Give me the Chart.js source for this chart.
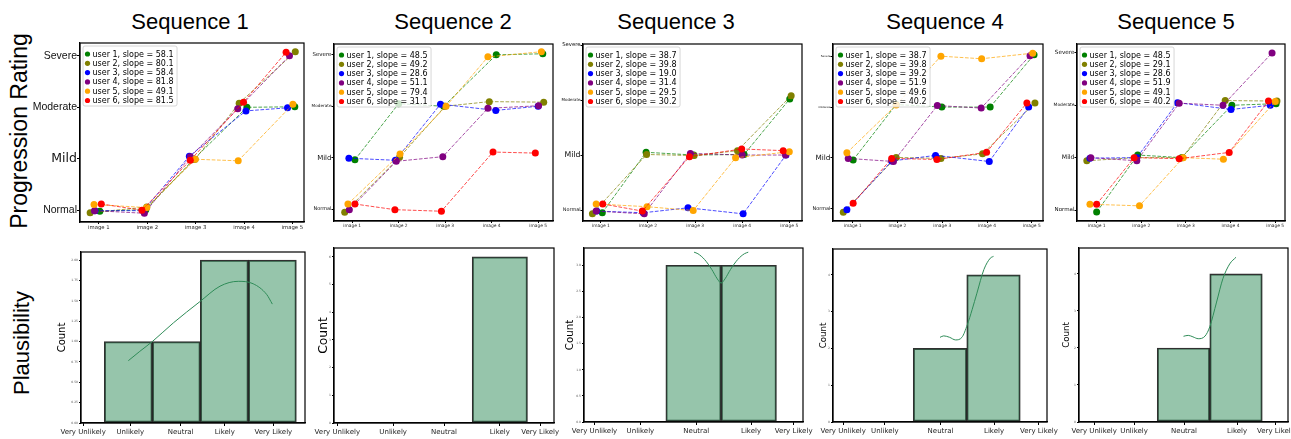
<!DOCTYPE html>
<html>
<head>
<meta charset="utf-8">
<script src="https://cdn.jsdelivr.net/npm/chart.js@4.4.1/dist/chart.umd.min.js"></script>
<style>
  html, body { margin: 0; padding: 0; background: #fff; }
  #fig { position: relative; width: 1291px; height: 439px; overflow: hidden; background: #fff; }
  #fig canvas { position: absolute; }
  .txt { position: absolute; font-family: 'Liberation Sans', Arial, sans-serif; line-height: 1; white-space: nowrap; color: #000; transform: translate(-50%, -50%); }
  .rot { transform: translate(-50%, -50%) rotate(-90deg); }
</style>
</head>
<body>
<div id="fig">
  <div class="txt" style="left:190px; top:22px; font-size:22px">Sequence 1</div>
  <div class="txt" style="left:453px; top:22px; font-size:22px">Sequence 2</div>
  <div class="txt" style="left:676px; top:22px; font-size:22px">Sequence 3</div>
  <div class="txt" style="left:945px; top:22px; font-size:22px">Sequence 4</div>
  <div class="txt" style="left:1176px; top:22px; font-size:22px">Sequence 5</div>
  <div class="txt rot" style="left:19px; top:131px; font-size:23px">Progression Rating</div>
  <div class="txt rot" style="left:22px; top:343px; font-size:22px">Plausibility</div>
</div>
<script>
// --- data -------------------------------------------------------------
const imageLabels = ['image 1', 'image 2', 'image 3', 'image 4', 'image 5'];
const ratingLabels = ['Normal', 'Mild', 'Moderate', 'Severe'];
const plausLabels = ['Very Unlikely', 'Unlikely', 'Neutral', 'Likely', 'Very Likely'];
const userNames = ['user 1', 'user 2', 'user 3', 'user 4', 'user 5', 'user 6'];

// ratings per user (rows) and image (columns), jittered as plotted
const seq1Y = [
  [-0.02, 0.01, 0.99, 2.0, 2.01],
  [-0.05, 0.06, 0.99, 2.08, 3.08],
  [-0.01, -0.01, 1.05, 1.93, 1.99],
  [-0.01, -0.06, 1.04, 1.97, 3.0],
  [0.11, 0.05, 0.99, 0.96, 2.06],
  [0.12, 0.0, 0.97, 2.1, 3.07]
];
const seq1X = [
  [0.02, 0.97, 1.96, 3.06, 4.05],
  [-0.18, 0.99, 1.99, 2.9, 4.06],
  [-0.08, 0.92, 1.87, 3.04, 3.9],
  [-0.09, 0.94, 1.89, 2.87, 3.94],
  [-0.1, 0.99, 1.99, 2.88, 4.01],
  [0.05, 0.89, 1.89, 2.99, 3.87]
];
const seq1Slopes = [58.1, 80.1, 58.4, 81.8, 49.1, 81.5];

const seq2Y = [
  [0.96, 2.05, 2.0, 3.0, 3.02],
  [-0.06, 1.01, 2.0, 2.09, 2.08],
  [0.99, 0.95, 2.04, 1.92, 2.0],
  [-0.01, 0.93, 1.02, 1.96, 2.01],
  [0.1, 1.07, 2.0, 2.96, 3.06],
  [0.1, -0.01, -0.04, 1.11, 1.09]
];
const seq2X = [
  [0.06, 1.0, 1.97, 3.1, 4.1],
  [-0.16, 1.02, 2.0, 2.95, 4.12],
  [-0.07, 0.93, 1.9, 3.09, 4.0],
  [-0.06, 0.95, 1.95, 2.92, 4.01],
  [-0.09, 1.03, 2.02, 2.92, 4.07],
  [0.06, 0.92, 1.92, 3.03, 3.94]
];
const seq2Slopes = [48.5, 49.2, 28.6, 51.1, 79.4, 31.1];

const seq3Y = [
  [-0.05, 1.05, 1.0, 1.01, 2.02],
  [-0.07, 1.01, 0.99, 1.08, 2.08],
  [-0.02, -0.05, 0.04, -0.07, 1.0],
  [-0.02, -0.07, 1.03, 1.0, 1.0],
  [0.11, 0.06, -0.01, 0.95, 1.06],
  [0.11, -0.02, 0.97, 1.11, 1.08]
];
const seq3X = [
  [0.03, 0.96, 1.97, 3.04, 4.01],
  [-0.18, 0.97, 1.98, 2.9, 4.04],
  [-0.09, 0.9, 1.85, 3.02, 3.93],
  [-0.1, 0.92, 1.9, 3.0, 3.92],
  [-0.1, 0.98, 1.96, 2.86, 4.0],
  [0.04, 0.88, 1.88, 2.99, 3.87]
];
const seq3Slopes = [38.7, 39.8, 19.0, 31.4, 29.5, 30.2];

const seq4Y = [
  [0.96, 2.05, 2.0, 2.0, 3.03],
  [-0.07, 1.01, 0.99, 1.08, 2.08],
  [-0.02, 0.94, 1.05, 0.93, 2.0],
  [0.99, 0.93, 2.03, 1.98, 3.01],
  [1.1, 2.04, 3.0, 2.95, 3.06],
  [0.11, 0.99, 0.97, 1.11, 2.08]
];
const seq4X = [
  [0.01, 0.97, 1.99, 3.07, 4.05],
  [-0.21, 0.97, 1.97, 2.9, 4.07],
  [-0.13, 0.87, 1.85, 3.05, 3.93],
  [-0.1, 0.91, 1.89, 2.87, 3.96],
  [-0.13, 0.97, 1.97, 2.88, 4.02],
  [0.01, 0.87, 1.88, 2.99, 3.89]
];
const seq4Slopes = [38.7, 39.8, 39.2, 51.9, 49.6, 40.2];

const seq5Y = [
  [-0.04, 1.05, 1.0, 2.0, 2.03],
  [0.94, 1.0, 1.0, 2.09, 2.08],
  [0.99, 1.0, 2.05, 1.92, 2.0],
  [1.0, 0.94, 2.04, 2.0, 3.0],
  [0.11, 0.08, 1.0, 0.97, 2.07],
  [0.11, 1.0, 0.98, 1.1, 2.08]
];
const seq5X = [
  [0.0, 0.92, 1.9, 3.03, 4.02],
  [-0.22, 0.86, 1.92, 2.88, 4.04],
  [-0.15, 0.9, 1.81, 3.01, 3.89],
  [-0.13, 0.9, 1.85, 2.83, 3.93],
  [-0.15, 0.96, 1.94, 2.84, 4.0],
  [0.0, 0.84, 1.85, 2.97, 3.85]
];
const seq5Slopes = [48.5, 29.1, 28.6, 51.9, 49.1, 40.2];

// plausibility counts per bin (Very Unlikely .. Very Likely)
const seq1Counts = [0, 1, 1, 2, 2];
const seq2Counts = [0, 0, 0, 6, 0];
const seq3Counts = [0, 0, 3, 3, 0];
const seq4Counts = [0, 0, 2, 4, 0];
const seq5Counts = [0, 0, 2, 4, 0];

// where the category labels sit on each histogram axis
const seq1PlausTicks = [0.06, 1.04, 2.09, 3.01, 4.02];
const seq2PlausTicks = [0.06, 1.07, 1.99, 3.0, 3.73];
const seq3PlausTicks = [0.21, 1.04, 2.05, 3.04, 3.81];
const seq4PlausTicks = [0.19, 0.97, 2.01, 3.01, 3.85];
const seq5PlausTicks = [0.3, 1.06, 2.01, 3.02, 3.76];

// kde curves
const seq1KdeX = [1.0, 1.24, 1.5, 1.94, 2.49, 2.91, 3.29, 3.6, 3.88, 4.0];
const seq1KdeY = [0.765, 0.88, 1.0, 1.23, 1.49, 1.68, 1.74, 1.71, 1.58, 1.46];
const seq3KdeX = [2.01, 2.08, 2.2, 2.33, 2.43, 2.5, 2.57, 2.67, 2.8, 2.92, 2.99];
const seq3KdeY = [3.25, 3.22, 3.11, 2.92, 2.74, 2.66, 2.74, 2.92, 3.11, 3.22, 3.25];
const seq4KdeX = [2.0, 2.07, 2.18, 2.29, 2.41, 2.51, 2.6, 2.69, 2.82, 2.94, 3.0];
const seq4KdeY = [2.3, 2.34, 2.3, 2.23, 2.3, 2.64, 3.05, 3.5, 4.14, 4.45, 4.5];
const seq5KdeX = [2.0, 2.09, 2.18, 2.28, 2.41, 2.5, 2.63, 2.75, 2.88, 3.0];
const seq5KdeY = [2.315, 2.34, 2.3, 2.25, 2.32, 2.57, 3.24, 3.87, 4.27, 4.45];

// --- style -------------------------------------------------------------
const userColors = ['#008000', '#808000', '#0000ff', '#800080', '#ffa500', '#ff0000'];
const lineColors = ['rgba(0,128,0,0.7)', 'rgba(128,128,0,0.7)', 'rgba(0,0,255,0.7)',
                    'rgba(128,0,128,0.7)', 'rgba(255,165,0,0.7)', 'rgba(255,0,0,0.7)'];
const DEJAVU = '"DejaVu Sans", Verdana, sans-serif';
const LIB = '"Liberation Sans", Arial, sans-serif';

const fig = document.getElementById('fig');

const framePlugin = {
  id: 'frame',
  afterDraw(chart) {
    const a = chart.chartArea, ctx = chart.ctx;
    ctx.save();
    ctx.strokeStyle = '#000';
    ctx.lineWidth = 1.2;
    ctx.strokeRect(a.left, a.top, a.right - a.left, a.bottom - a.top);
    ctx.restore();
  }
};

const userLegend = {
  id: 'userLegend',
  afterDatasetsDraw(chart, args, opts) {
    if (!opts.items) return;
    const a = chart.chartArea, ctx = chart.ctx;
    ctx.save();
    ctx.font = '8px ' + DEJAVU;
    const w = Math.max(...opts.items.map(it => ctx.measureText(it.text).width));
    const bx = a.left + 3, by = a.top + 3;
    const bw = w + 13, bh = 60;
    ctx.fillStyle = 'rgba(255,255,255,0.8)';
    ctx.strokeStyle = '#cccccc';
    ctx.lineWidth = 0.8;
    ctx.beginPath();
    if (ctx.roundRect) ctx.roundRect(bx, by, bw, bh, 2); else ctx.rect(bx, by, bw, bh);
    ctx.fill();
    ctx.stroke();
    ctx.textBaseline = 'middle';
    opts.items.forEach((it, i) => {
      const y = a.top + 11 + i * 9.3;
      ctx.fillStyle = it.color;
      ctx.beginPath();
      ctx.arc(bx + 4.5, y, 2.6, 0, Math.PI * 2);
      ctx.fill();
      ctx.fillStyle = '#000';
      ctx.fillText(it.text, bx + 9.5, y + 0.5);
    });
    ctx.restore();
  }
};

function addCanvas(rect, pad) {
  const [l, t, r, b] = rect;
  const c = document.createElement('canvas');
  const w = r - l + pad.left + pad.right;
  const h = b - t + pad.top + pad.bottom;
  c.width = w; c.height = h;
  c.style.width = w + 'px'; c.style.height = h + 'px';
  c.style.left = (l - pad.left) + 'px';
  c.style.top = (t - pad.top) + 'px';
  fig.appendChild(c);
  return c;
}

function fixY(width) {
  return (s) => { s.width = width; s.paddingTop = 0; s.paddingBottom = 0; };
}
function fixX(height) {
  return (s) => { s.height = height; s.paddingLeft = 0; s.paddingRight = 0; };
}

// --- top row: progression ratings --------------------------------------
const topPanels = [
  { xs: seq1X, ys: seq1Y, slopes: seq1Slopes, rect: [80, 43, 304, 222], pad: {left: 52, right: 8, top: 6, bottom: 12},
    xr: [-0.39, 4.24], yr: [-0.23, 3.25], ySizes: [10.5, 12.5, 10.5, 10.5], yFams: [LIB, DEJAVU, LIB, LIB], xSize: 5.3, yTick: 3 },
  { xs: seq2X, ys: seq2Y, slopes: seq2Slopes, rect: [334, 44, 553, 221], pad: {left: 24, right: 8, top: 6, bottom: 12},
    xr: [-0.39, 4.32], yr: [-0.23, 3.21], ySizes: [5, 7, 4.2, 5.5], yFams: [DEJAVU, DEJAVU, DEJAVU, DEJAVU], xSize: 4.4, yTick: 2.5 },
  { xs: seq3X, ys: seq3Y, slopes: seq3Slopes, rect: [583, 44, 802, 221], pad: {left: 24, right: 8, top: 6, bottom: 12},
    xr: [-0.38, 4.27], yr: [-0.2, 3.02], ySizes: [4.9, 7.8, 4, 5.3], yFams: [DEJAVU, DEJAVU, DEJAVU, DEJAVU], xSize: 4.4, yTick: 2.5 },
  { xs: seq4X, ys: seq4Y, slopes: seq4Slopes, rect: [833, 44, 1043, 221], pad: {left: 24, right: 8, top: 6, bottom: 12},
    xr: [-0.44, 4.25], yr: [-0.24, 3.24], ySizes: [5, 7.3, 2.5, 2.8], yFams: [DEJAVU, DEJAVU, DEJAVU, DEJAVU], xSize: 4.4, yTick: 2.5 },
  { xs: seq5X, ys: seq5Y, slopes: seq5Slopes, rect: [1077, 44, 1285, 221], pad: {left: 24, right: 6, top: 6, bottom: 12},
    xr: [-0.44, 4.22], yr: [-0.21, 3.17], ySizes: [5.5, 6.2, 4.4, 5.7], yFams: [DEJAVU, DEJAVU, DEJAVU, DEJAVU], xSize: 4.4, yTick: 2.5 }
];

topPanels.forEach(p => {
  const canvas = addCanvas(p.rect, p.pad);
  const datasets = userNames.map((name, u) => ({
    label: name,
    data: p.xs[u].map((x, k) => ({ x: x, y: p.ys[u][k] })),
    borderColor: lineColors[u],
    borderWidth: 1,
    borderDash: [3.7, 1.6],
    pointRadius: 3.5,
    pointBackgroundColor: userColors[u],
    pointBorderWidth: 0,
    tension: 0,
    order: userNames.length - u
  }));
  const items = userNames.map((name, u) => ({
    text: name + ', slope = ' + p.slopes[u].toFixed(1),
    color: userColors[u]
  }));
  new Chart(canvas, {
    type: 'line',
    data: { datasets },
    options: {
      responsive: false,
      animation: false,
      devicePixelRatio: 1,
      events: [],
      layout: { padding: { left: 0, right: p.pad.right, top: p.pad.top, bottom: 0 } },
      plugins: {
        legend: { display: false },
        tooltip: { enabled: false },
        userLegend: { items }
      },
      scales: {
        x: {
          type: 'linear', min: p.xr[0], max: p.xr[1], bounds: 'data',
          afterBuildTicks: s => { s.ticks = imageLabels.map((_, i) => ({ value: i })); },
          afterFit: fixX(p.pad.bottom),
          grid: { display: true, drawOnChartArea: false, drawTicks: true, tickLength: 2, color: '#000' },
          border: { display: true, color: '#000', width: 1.2 },
          ticks: { autoSkip: false, maxRotation: 0, padding: 0.5, color: '#222',
                   font: { family: DEJAVU, size: p.xSize },
                   callback: (v, i) => imageLabels[i] }
        },
        y: {
          type: 'linear', min: p.yr[0], max: p.yr[1], bounds: 'data',
          afterBuildTicks: s => { s.ticks = ratingLabels.map((_, i) => ({ value: i })); },
          afterFit: fixY(p.pad.left),
          grid: { display: true, drawOnChartArea: false, drawTicks: true, tickLength: p.yTick, color: '#000' },
          border: { display: true, color: '#000', width: 1.2 },
          ticks: { autoSkip: false, padding: 0, color: '#111',
                   font: ctx => ({ family: p.yFams[ctx.index], size: p.ySizes[ctx.index] }),
                   callback: (v, i) => ratingLabels[i] }
        }
      }
    },
    plugins: [framePlugin, userLegend]
  });
});

// --- bottom row: plausibility histograms -------------------------------
const bottomPanels = [
  { counts: seq1Counts, ticks: seq1PlausTicks, kx: seq1KdeX, ky: seq1KdeY, rect: [81, 252, 305, 423],
    pad: {left: 30, right: 6, top: 4, bottom: 16}, xr: [0.015, 4.68], ymax: 2.10, yStep: 0.25, yDec: 2, countSize: 10, countX: 62 },
  { counts: seq2Counts, ticks: seq2PlausTicks, kx: [], ky: [], rect: [334, 248, 554, 423],
    pad: {left: 22, right: 8, top: 4, bottom: 16}, xr: [0.0, 3.98], ymax: 6.32, yStep: 1, yDec: 0, countSize: 12.3, countX: 324 },
  { counts: seq3Counts, ticks: seq3PlausTicks, kx: seq3KdeX, ky: seq3KdeY, rect: [584, 248, 803, 422],
    pad: {left: 22, right: 12, top: 4, bottom: 17}, xr: [0.02, 3.98], ymax: 3.33, yStep: 0.5, yDec: 1, countSize: 10.3, countX: 570 },
  { counts: seq4Counts, ticks: seq4PlausTicks, kx: seq4KdeX, ky: seq4KdeY, rect: [833, 249, 1047, 422],
    pad: {left: 16, right: 13, top: 4, bottom: 17}, xr: [0.0, 4.0], ymax: 4.7, yStep: 1, yDec: 0, countSize: 8.6, countX: 824 },
  { counts: seq5Counts, ticks: seq5PlausTicks, kx: seq5KdeX, ky: seq5KdeY, rect: [1079, 248, 1288, 422],
    pad: {left: 19, right: 3, top: 4, bottom: 17}, xr: [0.01, 3.99], ymax: 4.7, yStep: 1, yDec: 0, countSize: 8.6, countX: 1067 }
];

bottomPanels.forEach(p => {
  const canvas = addCanvas(p.rect, p.pad);
  const lh = p.countSize * 1.2;
  const titlePad = p.countX - (p.rect[0] - p.pad.left) - lh / 2;
  const yTicks = [];
  for (let v = 0; v <= Math.floor(p.ymax / p.yStep + 1e-9) * p.yStep + 1e-9; v += p.yStep) yTicks.push({ value: v });
  new Chart(canvas, {
    type: 'bar',
    data: {
      datasets: [
        {
          type: 'line',
          data: p.kx.map((x, i) => ({ x: x, y: p.ky[i] })),
          borderColor: '#2e8b57',
          borderWidth: 1,
          pointRadius: 0,
          cubicInterpolationMode: 'monotone'
        },
        {
          type: 'bar',
          data: p.counts.map((c, i) => ({ x: i, y: c > 0 ? c : null })),
          backgroundColor: 'rgba(46,139,87,0.5)',
          borderColor: 'rgba(25,25,25,0.9)',
          borderWidth: 1.3,
          borderSkipped: false,
          barThickness: 'flex',
          categoryPercentage: 1,
          barPercentage: 1
        }
      ]
    },
    options: {
      responsive: false,
      animation: false,
      devicePixelRatio: 1,
      events: [],
      layout: { padding: { left: 0, right: p.pad.right, top: p.pad.top, bottom: 0 } },
      plugins: { legend: { display: false }, tooltip: { enabled: false } },
      scales: {
        x: {
          type: 'linear', min: p.xr[0], max: p.xr[1], bounds: 'data', offset: false,
          afterBuildTicks: s => { s.ticks = p.ticks.map(v => ({ value: v })); },
          afterFit: fixX(p.pad.bottom),
          grid: { display: true, offset: false, drawOnChartArea: false, drawTicks: true, tickLength: 3, color: '#000' },
          border: { display: true, color: '#000', width: 1.2 },
          ticks: { autoSkip: false, maxRotation: 0, padding: 1.5, color: '#222',
                   font: { family: DEJAVU, size: 7 },
                   callback: (v, i) => plausLabels[i] }
        },
        y: {
          type: 'linear', min: 0, max: p.ymax, bounds: 'data',
          afterBuildTicks: s => { s.ticks = yTicks; },
          afterFit: fixY(p.pad.left),
          grid: { display: true, drawOnChartArea: false, drawTicks: true, tickLength: 2, color: '#000' },
          border: { display: true, color: '#000', width: 1.2 },
          title: { display: true, text: 'Count', color: '#000',
                   font: { family: DEJAVU, size: p.countSize },
                   padding: { top: titlePad, bottom: 0 } },
          ticks: { autoSkip: false, padding: 1, color: '#555',
                   font: { family: DEJAVU, size: 3 },
                   callback: v => v.toFixed(p.yDec) }
        }
      }
    },
    plugins: [framePlugin]
  });
});
</script>
</body>
</html>
